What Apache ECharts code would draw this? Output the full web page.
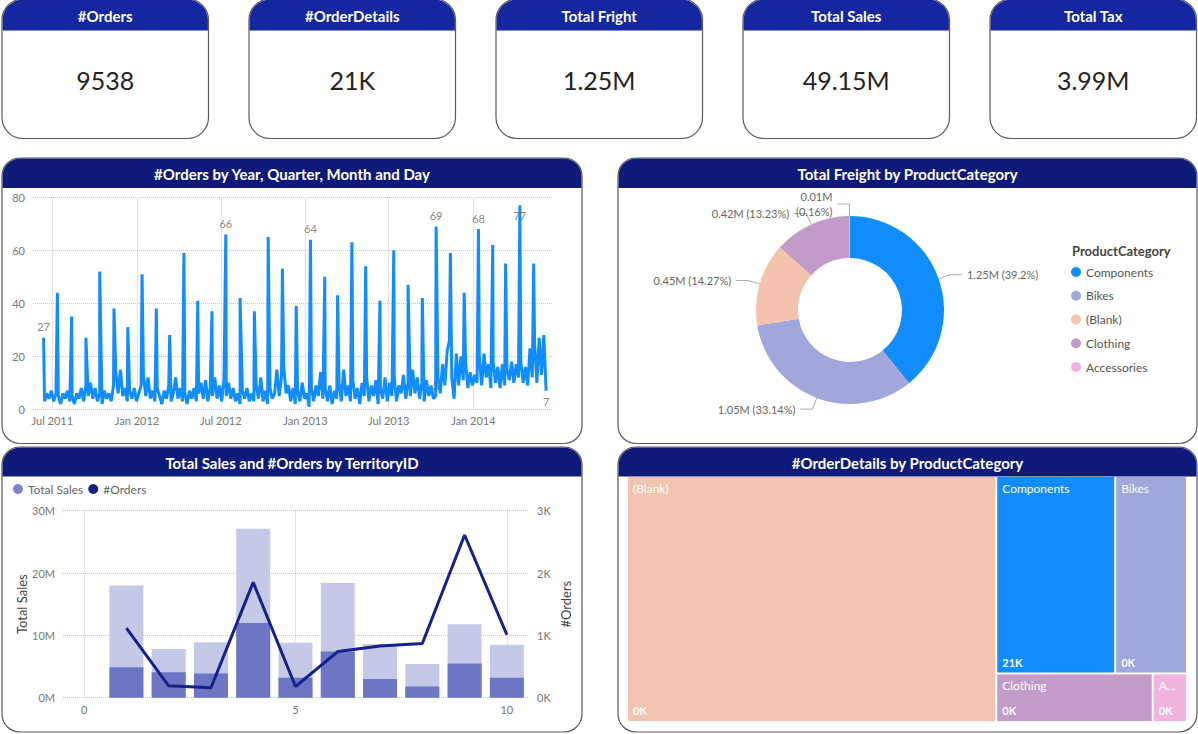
<!DOCTYPE html>
<html><head><meta charset="utf-8">
<script src="https://cdn.jsdelivr.net/npm/echarts@6/dist/echarts.min.js"></script>
<style>html,body{margin:0;padding:0;background:#fff;}#c{width:1198px;height:734px;}</style>
</head><body><div id="c"></div>
<script>
// ---------------- DATA ----------------
const kpiTitles = ['#Orders', '#OrderDetails', 'Total Fright', 'Total Sales', 'Total Tax'];
const kpiValues = ['9538', '21K', '1.25M', '49.15M', '3.99M'];

// #Orders by day: monthly spikes + daily baseline (sampled every 5 days)
const spikeDates = ['2011-06-12','2011-07-12','2011-08-12','2011-09-12','2011-10-12','2011-11-12','2011-12-12',
  '2012-01-12','2012-02-12','2012-03-12','2012-04-12','2012-05-12','2012-06-12','2012-07-12','2012-08-12','2012-09-12',
  '2012-10-12','2012-11-12','2012-12-12','2013-01-12','2013-02-12','2013-03-12','2013-04-12','2013-05-12','2013-06-12',
  '2013-07-12','2013-08-12','2013-09-12','2013-10-12','2013-11-12','2013-12-12','2014-01-12','2014-02-12','2014-03-12',
  '2014-04-12','2014-05-12'];
const spikeValues = [27,44,35,27,52,38,31,51,38,28,59,41,37,66,42,37,65,53,39,64,50,43,63,54,41,60,47,42,69,59,44,68,62,55,77,55];
const labeledSpikes = [0, 13, 19, 28, 31, 34];
const baselineStart = '2011-06-14';
const baselineStepDays = 5;
const baselineValues = [
  3,6,4,7,3,6,5,2,6,4,  7,3,5,2,6,4,8,3,9,5,  10,4,8,3,6,2,7,4,6,3,  9,14,6,15,5,8,3,7,4,8,
  3,6,9,13,5,12,4,7,3,8,  5,2,7,4,9,3,6,12,4,8,  3,6,2,7,4,8,3,6,10,4,  11,3,8,5,12,4,9,3,11,5,
  10,4,8,3,6,2,7,4,8,3,  6,3,9,4,12,3,7,2,8,4,  6,15,5,12,16,6,9,3,8,2,  7,3,10,4,6,1,8,3,9,5,
  14,4,8,3,9,2,7,4,10,3,  15,5,9,3,11,4,8,2,10,5,  12,3,9,5,11,2,8,4,12,3,  10,5,12,3,9,6,13,4,10,5,
  15,6,12,4,10,3,11,5,9,4,  5,12,6,17,9,22,26,12,4,21,  9,20,11,18,8,14,9,13,10,19,  9,21,12,17,8,18,10,16,8,17,
  9,15,11,18,10,17,12,18,10,16,  9,23,12,25,10,27,13,28,7];
const labeledBaseline = [170, 218];
const lineTickDates = ['2011-07-01','2012-01-01','2012-07-01','2013-01-01','2013-07-01','2014-01-01'];
const lineAxisMin = '2011-05-20';
const lineAxisMax = '2014-06-23';

// Total Sales and #Orders by TerritoryID
const territories = [1,2,3,4,5,6,7,8,9,10];
const totalSales = [18.0e6, 7.8e6, 8.9e6, 27.1e6, 8.8e6, 18.4e6, 8.6e6, 5.4e6, 11.8e6, 8.5e6];
const highlightedSales = [4.9e6, 4.1e6, 3.9e6, 12.0e6, 3.2e6, 7.4e6, 3.0e6, 1.8e6, 5.5e6, 3.2e6];
const ordersByTerritory = [1115, 190, 160, 1850, 180, 740, 830, 870, 2610, 1010];
const comboXTicks = [0, 5, 10];

// Total Freight by ProductCategory
const categories = ['Components', 'Bikes', '(Blank)', 'Clothing', 'Accessories'];
const freight = [1246600, 1053900, 453800, 420700, 5100];
const categoryColors = ['#118DFF', '#A1A7DA', '#F4C3AE', '#C39BC8', '#F1B4DE'];

// #OrderDetails by ProductCategory (treemap)
const tmNames = ['(Blank)', 'Components', 'Bikes', 'Clothing', 'Accessories'];
const tmSizes = [87400, 22600, 13650, 7300, 1600];
const tmShown = ['0K', '21K', '0K', '0K', '0K'];
const tmColors = ['#F3C4B0', '#118DFF', '#A0A7DA', '#C39BC8', '#F0B4DE'];

// ---------------- HELPERS ----------------
const FONT = 'Lato, "Noto Sans", sans-serif';
function ts(s) { const p = s.split('-').map(Number); return new Date(p[0], p[1] - 1, p[2]).getTime(); }
const MONTHS = ['Jan','Feb','Mar','Apr','May','Jun','Jul','Aug','Sep','Oct','Nov','Dec'];

const bs = baselineStart.split('-').map(Number);
const pts = [];
baselineValues.forEach((v, i) => pts.push([new Date(bs[0], bs[1] - 1, bs[2] + i * baselineStepDays).getTime(), v]));
spikeDates.forEach((d, k) => pts.push([ts(d), spikeValues[k]]));
pts.sort((a, b) => a[0] - b[0]);

const labelPts = [];
labeledSpikes.forEach(k => labelPts.push({ value: [ts(spikeDates[k]), spikeValues[k]],
  label: { position: spikeValues[k] === 77 ? 'bottom' : 'top', distance: spikeValues[k] === 77 ? 4 : 5 } }));
labeledBaseline.forEach(i => labelPts.push({ value: [new Date(bs[0], bs[1] - 1, bs[2] + i * baselineStepDays).getTime(), baselineValues[i]],
  label: { position: i === baselineValues.length - 1 ? 'bottom' : 'top' } }));

// ---------------- FRAMES ----------------
const graphics = [];
function frame(x, y, w, h, r, headH, headColor, title, titleFont) {
  graphics.push({ type: 'rect', z: 1, shape: { x, y, width: w, height: h, r }, style: { fill: 'none', stroke: '#5a5a5a', lineWidth: 1.2 } });
  graphics.push({ type: 'rect', z: 1, shape: { x: x + 0.6, y: y + 0.6, width: w - 1.2, height: headH, r: [r - 0.6, r - 0.6, 0, 0] }, style: { fill: headColor } });
  graphics.push({ type: 'text', z: 3, x: x + w / 2, y: y + headH / 2 + 1, style: { text: title, align: 'center', verticalAlign: 'middle', fill: '#ffffff', font: titleFont } });
}
kpiTitles.forEach((t, i) => {
  const x = 2 + i * 247;
  frame(x, -1, 206.5, 139.5, 21, 31, '#1427A0', t, 'bold 15px ' + FONT);
  graphics.push({ type: 'text', z: 3, x: x + 103.25, y: 80, style: { text: kpiValues[i], align: 'center', verticalAlign: 'middle', fill: '#252423', font: '25px ' + FONT } });
});
frame(2, 158, 580, 285.5, 18, 29.5, '#0E1A7A', '#Orders by Year, Quarter, Month and Day', 'bold 15px ' + FONT);
frame(618, 158, 579, 285.5, 18, 29.5, '#0E1A7A', 'Total Freight by ProductCategory', 'bold 15px ' + FONT);
frame(2, 447, 580, 285, 18, 29, '#0E1A7A', 'Total Sales and #Orders by TerritoryID', 'bold 15px ' + FONT);
frame(618, 447, 579, 285, 18, 29, '#0E1A7A', '#OrderDetails by ProductCategory', 'bold 15px ' + FONT);
graphics.push({ type: 'text', z: 3, x: 1072, y: 251, style: { text: 'ProductCategory', align: 'left', verticalAlign: 'middle', fill: '#444', font: 'bold 13px ' + FONT } });

// ---------------- CHART ----------------
const chart = echarts.init(document.getElementById('c'), null, { renderer: 'svg', width: 1198, height: 734 });
const gridLine = { show: true, lineStyle: { color: '#c8c8c8', type: 'dotted', width: 1 } };
const axisText = { color: '#777', fontSize: 11, fontFamily: FONT };
const lineTicks = lineTickDates.map(ts);

chart.setOption({
  animation: false,
  backgroundColor: '#ffffff',
  textStyle: { fontFamily: FONT },
  graphic: graphics,
  grid: [
    { left: 33, top: 197.3, width: 520, height: 212, containLabel: false },
    { left: 63, top: 510.7, width: 465, height: 187, containLabel: false }
  ],
  legend: [
    { left: 8, top: 478, icon: 'circle', itemWidth: 10, itemHeight: 10, itemGap: 5,
      textStyle: { color: '#666', fontSize: 12, fontFamily: FONT },
      data: [{ name: 'Total Sales', itemStyle: { color: '#7B83CB' } }, { name: '#Orders', itemStyle: { color: '#16208C' } }] },
    { orient: 'vertical', left: 1066, top: 261, icon: 'circle', itemWidth: 10, itemHeight: 10, itemGap: 11.75,
      textStyle: { color: '#555', fontSize: 12, fontFamily: FONT }, data: categories }
  ],
  xAxis: [
    { type: 'value', gridIndex: 0, min: ts(lineAxisMin), max: ts(lineAxisMax),
      axisLine: { show: false }, axisTick: { show: false, customValues: lineTicks },
      splitLine: gridLine,
      axisLabel: Object.assign({ margin: 6, customValues: lineTicks, hideOverlap: false,
        formatter: v => { const d = new Date(v); return MONTHS[d.getMonth()] + ' ' + d.getFullYear(); } }, axisText) },
    { type: 'value', gridIndex: 1, min: -0.5, max: 10.5,
      axisLine: { show: false }, axisTick: { show: false, customValues: comboXTicks },
      splitLine: gridLine,
      axisLabel: Object.assign({ margin: 6, customValues: comboXTicks }, axisText) }
  ],
  yAxis: [
    { type: 'value', gridIndex: 0, min: 0, max: 80, interval: 20,
      axisLine: { show: false }, axisTick: { show: false }, splitLine: gridLine,
      axisLabel: Object.assign({ margin: 8 }, axisText) },
    { type: 'value', gridIndex: 1, min: 0, max: 30e6, interval: 10e6,
      name: 'Total Sales', nameLocation: 'middle', nameGap: 35, nameRotate: 90,
      nameTextStyle: { color: '#444', fontSize: 13, fontFamily: FONT },
      axisLine: { show: false }, axisTick: { show: false }, splitLine: gridLine,
      axisLabel: Object.assign({ margin: 8, formatter: v => (v / 1e6) + 'M' }, axisText) },
    { type: 'value', gridIndex: 1, position: 'right', min: 0, max: 3000, interval: 1000,
      name: '#Orders', nameLocation: 'middle', nameGap: 31, nameRotate: 90,
      nameTextStyle: { color: '#444', fontSize: 13, fontFamily: FONT },
      axisLine: { show: false }, axisTick: { show: false }, splitLine: { show: false },
      axisLabel: Object.assign({ margin: 9, formatter: v => (v / 1000) + 'K' }, axisText) }
  ],
  series: [
    { type: 'line', name: 'OrdersByDay', xAxisIndex: 0, yAxisIndex: 0, data: pts, symbol: 'none',
      lineStyle: { color: '#118DFF', width: 3 }, itemStyle: { color: '#118DFF' }, silent: true, z: 3 },
    { type: 'scatter', name: 'OrdersLabels', xAxisIndex: 0, yAxisIndex: 0, data: labelPts, symbolSize: 1,
      itemStyle: { color: 'rgba(0,0,0,0)' }, silent: true, z: 4,
      label: { show: true, color: '#666', fontSize: 11, fontFamily: FONT, formatter: p => p.value[1] } },
    { type: 'bar', name: 'Total Sales', xAxisIndex: 1, yAxisIndex: 1, barWidth: 34, barGap: '-100%',
      data: territories.map((t, i) => [t, totalSales[i]]), itemStyle: { color: '#C5C9E8' }, silent: true },
    { type: 'bar', name: 'Highlighted Sales', xAxisIndex: 1, yAxisIndex: 1, barWidth: 34, barGap: '-100%',
      data: territories.map((t, i) => [t, highlightedSales[i]]), itemStyle: { color: '#6C76C4' }, silent: true },
    { type: 'line', name: '#Orders', xAxisIndex: 1, yAxisIndex: 2, symbol: 'none',
      data: territories.map((t, i) => [t, ordersByTerritory[i]]),
      lineStyle: { color: '#16208C', width: 3 }, itemStyle: { color: '#16208C' }, silent: true, z: 5 },
    { type: 'pie', name: 'Freight', center: [850, 310], radius: [52, 94], startAngle: 90, clockwise: true,
      avoidLabelOverlap: false, percentPrecision: 2, silent: true,
      data: categories.map((c, i) => ({ name: c, value: freight[i], itemStyle: { color: categoryColors[i] } })),
      label: { show: true, color: '#666', fontSize: 11, fontFamily: FONT, lineHeight: 15,
        formatter: p => { const m = (p.value / 1e6).toFixed(2) + 'M'; const pc = '(' + p.percent + '%)'; return p.percent < 1 ? m + '\n' + pc : m + ' ' + pc; } },
      labelLine: { show: true, length: 12, length2: 12, lineStyle: { color: '#aaa', width: 1 } } },
    { type: 'treemap', name: 'OrderDetails', left: 628, top: 477, width: 558, height: 244,
      squareRatio: 3, roam: false, nodeClick: false, silent: true, breadcrumb: { show: false },
      itemStyle: { borderWidth: 0, gapWidth: 2 }, levels: [{ itemStyle: { borderWidth: 0, gapWidth: 2 } }],
      upperLabel: { show: false },
      label: { show: true, position: 'insideTopLeft', color: '#fff', fontSize: 12, fontFamily: FONT, overflow: 'truncate', ellipsis: '...', formatter: '{b}' },
      data: tmNames.map((n, i) => ({ name: n, value: tmSizes[i], itemStyle: { color: tmColors[i] } })) },
    { type: 'treemap', name: 'OrderDetailsValues', left: 628, top: 477, width: 558, height: 244,
      squareRatio: 3, roam: false, nodeClick: false, silent: true, breadcrumb: { show: false },
      itemStyle: { borderWidth: 0, gapWidth: 2, color: 'rgba(0,0,0,0)' }, levels: [{ itemStyle: { borderWidth: 0, gapWidth: 2 } }],
      upperLabel: { show: false },
      label: { show: true, position: 'insideBottomLeft', color: '#fff', fontSize: 11, fontWeight: 'bold', fontFamily: FONT,
        formatter: p => tmShown[tmNames.indexOf(p.name)] },
      data: tmNames.map((n, i) => ({ name: n, value: tmSizes[i], itemStyle: { color: 'rgba(0,0,0,0)' } })) }
  ]
});
</script></body></html>
